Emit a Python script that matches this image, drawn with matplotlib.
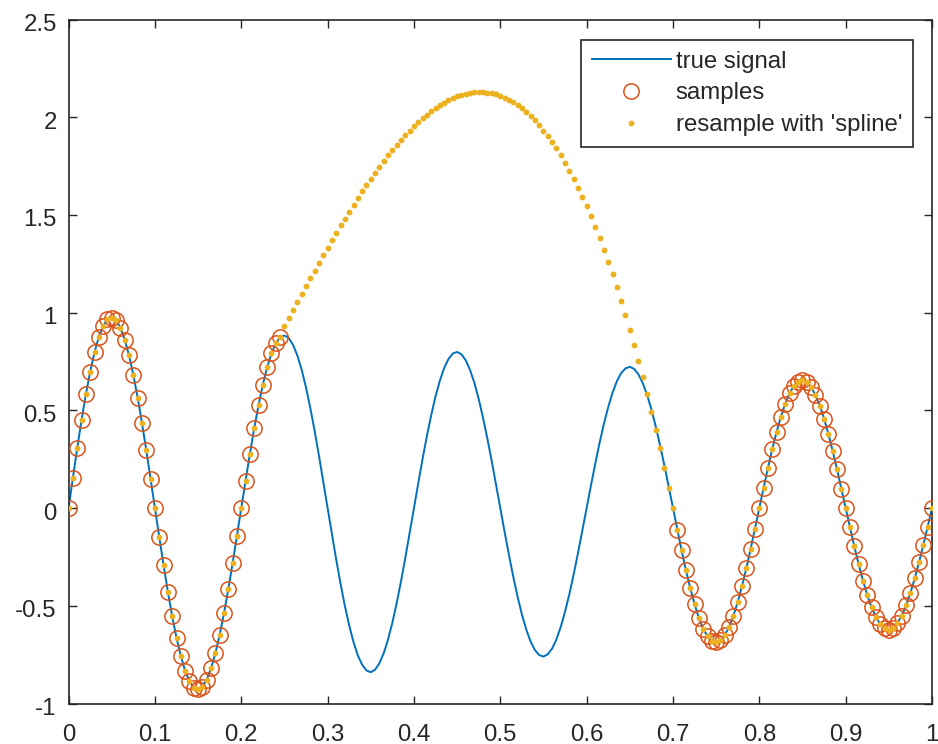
import numpy as np
import matplotlib
matplotlib.use("Agg")
import matplotlib.pyplot as plt
from matplotlib.transforms import ScaledTranslation

plt.rcParams['font.family'] = ['Liberation Sans', 'DejaVu Sans']

fs = 200  # sample rate (0.005 s)
t = np.arange(201) / fs

# true signal, one value per 0.005 s
true_signal = np.array([
    0.000, 0.156, 0.307, 0.451, 0.582, 0.698, 0.797, 0.876, 0.932, 0.966,
    0.975, 0.961, 0.923, 0.862, 0.781, 0.681, 0.565, 0.435, 0.295, 0.149,
    0.000, -0.148, -0.292, -0.429, -0.554, -0.664, -0.758, -0.833, -0.887, -0.919,
    -0.928, -0.914, -0.878, -0.820, -0.743, -0.648, -0.537, -0.414, -0.281, -0.142,
    0.000, 0.141, 0.278, 0.408, 0.527, 0.632, 0.721, 0.792, 0.844, 0.874,
    0.883, 0.869, 0.835, 0.780, 0.707, 0.616, 0.511, 0.394, 0.267, 0.135,
    0.000, -0.134, -0.265, -0.388, -0.501, -0.601, -0.686, -0.754, -0.802, -0.831,
    -0.840, -0.827, -0.794, -0.742, -0.672, -0.586, -0.486, -0.375, -0.254, -0.128,
    0.000, 0.128, 0.252, 0.369, 0.476, 0.572, 0.652, 0.717, 0.763, 0.791,
    0.799, 0.787, 0.756, 0.706, 0.640, 0.558, 0.462, 0.356, 0.242, 0.122,
    0.000, -0.122, -0.239, -0.351, -0.453, -0.544, -0.621, -0.682, -0.726, -0.752,
    -0.760, -0.748, -0.719, -0.672, -0.608, -0.530, -0.440, -0.339, -0.230, -0.116,
    0.000, 0.116, 0.228, 0.334, 0.431, 0.517, 0.590, 0.649, 0.691, 0.715,
    0.723, 0.712, 0.684, 0.639, 0.579, 0.505, 0.418, 0.322, 0.219, 0.110,
    0.000, -0.110, -0.217, -0.318, -0.410, -0.492, -0.562, -0.617, -0.657, -0.681,
    -0.687, -0.677, -0.650, -0.608, -0.551, -0.480, -0.398, -0.307, -0.208, -0.105,
    0.000, 0.105, 0.206, 0.302, 0.390, 0.468, 0.534, 0.587, 0.625, 0.647,
    0.654, 0.644, 0.619, 0.578, 0.524, 0.457, 0.379, 0.292, 0.198, 0.100,
    0.000, -0.099, -0.196, -0.287, -0.371, -0.445, -0.508, -0.558, -0.594, -0.616,
    -0.622, -0.613, -0.589, -0.550, -0.498, -0.434, -0.360, -0.277, -0.188, -0.095,
    0.000,
])

# spline resample inside the gap, 0.25 .. 0.70
spline_gap = [
    0.930, 0.973, 1.015, 1.055, 1.095, 1.136, 1.177, 1.214, 1.255, 1.296,
    1.333, 1.371, 1.408, 1.446, 1.481, 1.517, 1.551, 1.587, 1.621, 1.653,
    1.686, 1.717, 1.747, 1.777, 1.805, 1.833, 1.859, 1.884, 1.909, 1.932,
    1.954, 1.975, 1.995, 2.013, 2.030, 2.046, 2.061, 2.074, 2.086, 2.097,
    2.106, 2.113, 2.119, 2.124, 2.127, 2.128, 2.128, 2.126, 2.122, 2.117,
    2.109, 2.100, 2.089, 2.077, 2.062, 2.046, 2.027, 2.007, 1.984, 1.959,
    1.932, 1.904, 1.873, 1.840, 1.805, 1.767, 1.727, 1.685, 1.640, 1.594,
    1.544, 1.493, 1.440, 1.384, 1.323, 1.260, 1.197, 1.129, 1.058, 0.986,
    0.912, 0.832, 0.753, 0.670, 0.582, 0.493, 0.401, 0.305, 0.206, 0.104,
    0.002,
]

x_ticks = [0, 0.1, 0.2, 0.3, 0.4, 0.5, 0.6, 0.7, 0.8, 0.9, 1]
x_labels = ['0', '0.1', '0.2', '0.3', '0.4', '0.5', '0.6', '0.7', '0.8', '0.9', '1']
y_ticks = [-1, -0.5, 0, 0.5, 1, 1.5, 2, 2.5]
y_labels = ['-1', '-0.5', '0', '0.5', '1', '1.5', '2', '2.5']

gap = (t >= 0.25) & (t <= 0.70)
kept = ~gap
resampled = true_signal.copy()
resampled[gap] = spline_gap

blue = '#0072BD'
orange = '#D95319'
yellow = '#EDB120'
dark = '#262626'

fig = plt.figure(figsize=(9.38, 7.44), dpi=100)
ax = fig.add_axes([68.6 / 938, 40.5 / 744, (932 - 68.6) / 938, (703.5 - 19.5) / 744])

ax.plot(t, true_signal, color=blue, lw=1.4, label='true signal', zorder=2)
ax.plot(t[kept], true_signal[kept], 'o', mfc='none', mec=orange, ms=11, mew=1.1,
        label='samples', zorder=3)
ax.plot(t, resampled, 'o', color=yellow, mec='none', ms=4.2,
        label="resample with 'spline'", zorder=4)

ax.set_xlim(0, 1)
ax.set_ylim(-1, 2.5)
ax.set_xticks(x_ticks)
ax.set_xticklabels(x_labels)
ax.set_yticks(y_ticks)
ax.set_yticklabels(y_labels)
ax.tick_params(direction='in', length=6, width=1.0, top=True, right=True,
               labelsize=17.3, color=dark, labelcolor=dark)
ax.tick_params(axis='x', pad=14.5)
ax.tick_params(axis='y', pad=8.5)
# matlab puts the y labels a little below the tick
shift = ScaledTranslation(0, -3 / 100, fig.dpi_scale_trans)
for lbl in ax.get_yticklabels():
    lbl.set_transform(lbl.get_transform() + shift)
for s in ax.spines.values():
    s.set_color(dark)
    s.set_linewidth(1.2)

leg = ax.legend(loc='upper right', bbox_to_anchor=(913 / 938, 1 - 40 / 744),
                bbox_transform=fig.transFigure, borderaxespad=0, fontsize=17.3,
                handlelength=3.3, handletextpad=0.2, labelspacing=0.4,
                borderpad=0.45, fancybox=False, framealpha=1)
leg.get_frame().set_edgecolor(dark)
leg.get_frame().set_linewidth(1.2)
for txt in leg.get_texts():
    txt.set_color(dark)

fig.savefig('out.png', dpi=100)
